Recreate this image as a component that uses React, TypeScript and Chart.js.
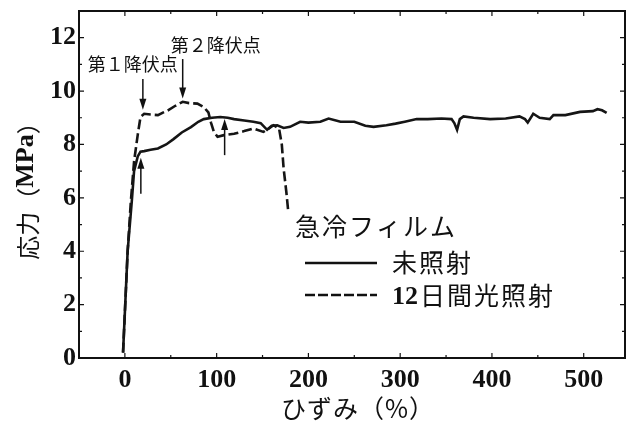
import React, { useEffect, useRef } from "react";
import { Chart, registerables } from "chart.js";

Chart.register(...registerables);

// 未照射 (solid)
const unexposedStrain = [-2, 3, 7.6, 10, 14, 17, 21, 28, 36, 45, 53, 62, 72, 80, 86, 95, 104, 112, 119, 130, 140, 148, 155, 160, 166, 173, 180, 191, 200, 213, 222, 235, 250, 262, 271, 285, 295, 305, 318, 330, 345, 356, 359, 362, 365, 369, 380, 398, 415, 430, 436, 439, 445, 452, 463, 467, 480, 496, 510, 515, 520, 525];
const unexposedStress = [0.2, 4.0, 5.9, 7.0, 7.55, 7.73, 7.75, 7.8, 7.85, 8.0, 8.2, 8.45, 8.65, 8.85, 8.95, 9.0, 9.03, 9.0, 8.95, 8.9, 8.85, 8.8, 8.55, 8.7, 8.72, 8.62, 8.66, 8.85, 8.82, 8.85, 8.97, 8.85, 8.85, 8.7, 8.66, 8.72, 8.78, 8.85, 8.95, 8.95, 8.97, 8.95, 8.8, 8.55, 8.95, 9.05, 9.0, 8.95, 8.97, 9.05, 8.95, 8.82, 9.15, 9.0, 8.95, 9.1, 9.1, 9.22, 9.25, 9.32, 9.28, 9.18];

// 12日間光照射 (dashed)
const exposedStrain = [-2, 3, 6.5, 10, 14, 17, 21, 28, 36, 42, 47, 55, 63, 70, 79, 86, 91, 94, 97, 101, 108, 119, 130, 140, 151, 157, 162, 168, 171, 173, 176, 178];
const exposedStress = [0.2, 4.0, 5.87, 7.36, 8.36, 9.03, 9.15, 9.12, 9.1, 9.2, 9.28, 9.45, 9.6, 9.55, 9.53, 9.4, 9.2, 8.8, 8.47, 8.29, 8.35, 8.4, 8.5, 8.6, 8.47, 8.6, 8.72, 8.6, 8.0, 7.1, 6.2, 5.5];

const xTickValues = [0, 100, 200, 300, 400, 500];
const yTickValues = [0, 2, 4, 6, 8, 10, 12];

const legendTitle = "急冷フィルム";
const seriesNames = ["未照射", "12日間光照射"];
const xTitle = "ひずみ（%）";
const yTitleJa = "応力";

// annotation arrows: [strain, fromStress, toStress]
const downArrows = [[19.6, 10.45, 9.3], [63, 11.2, 9.72]];
const upArrows = [[17.4, 6.15, 7.5], [108.7, 7.6, 8.95]];
const arrowLabels = ["第１降伏点", "第２降伏点"];

const CJK = '"Noto Sans CJK JP", sans-serif';
const SERIF = '"Liberation Serif", "DejaVu Serif", serif';

function toPoints(xs: number[], ys: number[]) {
  return xs.map((x, i) => ({ x, y: ys[i] }));
}

const framePlugin = {
  id: "frame",
  afterDraw(chart: any) {
    const { ctx, chartArea: a, scales } = chart;
    const xs = scales.x, ys = scales.y;
    ctx.save();
    ctx.strokeStyle = "#111";
    ctx.fillStyle = "#111";
    // frame
    ctx.lineWidth = 2;
    ctx.strokeRect(a.left, a.top, a.right - a.left, a.bottom - a.top);
    // ticks
    ctx.lineWidth = 1.2;
    for (let v = -50; v <= 545; v += 50) {
      const px = xs.getPixelForValue(v);
      if (px < a.left + 1 || px > a.right - 1) continue;
      const len = v % 100 === 0 ? 5 : 3;
      ctx.beginPath();
      ctx.moveTo(px, a.bottom); ctx.lineTo(px, a.bottom - len);
      ctx.moveTo(px, a.top); ctx.lineTo(px, a.top + len);
      ctx.stroke();
    }
    for (let v = 0; v <= 13; v += 1) {
      const py = ys.getPixelForValue(v);
      if (py < a.top + 1 || py > a.bottom - 1) continue;
      const len = v % 2 === 0 ? 5 : 3;
      ctx.beginPath();
      ctx.moveTo(a.left, py); ctx.lineTo(a.left + len, py);
      ctx.moveTo(a.right, py); ctx.lineTo(a.right - len, py);
      ctx.stroke();
    }

    // arrows
    const arrow = (x: number, y0: number, y1: number) => {
      const px = xs.getPixelForValue(x);
      const p0 = ys.getPixelForValue(y0);
      const p1 = ys.getPixelForValue(y1);
      const dir = p1 > p0 ? 1 : -1;
      ctx.lineWidth = 1.5;
      ctx.beginPath();
      ctx.moveTo(px, p0);
      ctx.lineTo(px, p1 - dir * 8);
      ctx.stroke();
      ctx.beginPath();
      ctx.moveTo(px, p1);
      ctx.lineTo(px - 3.5, p1 - dir * 11);
      ctx.lineTo(px + 3.5, p1 - dir * 11);
      ctx.closePath();
      ctx.fill();
    };
    downArrows.forEach((d) => arrow(d[0], d[1], d[2]));
    upArrows.forEach((d) => arrow(d[0], d[1], d[2]));

    // arrow labels
    ctx.font = `18px ${CJK}`;
    ctx.textBaseline = "middle";
    ctx.textAlign = "center";
    ctx.fillText(arrowLabels[0], xs.getPixelForValue(19.6) - 10, ys.getPixelForValue(11.0));
    ctx.fillText(arrowLabels[1], xs.getPixelForValue(63) + 33, ys.getPixelForValue(11.72));

    // legend
    const lx0 = a.left + 226, lx1 = a.left + 298;
    ctx.textAlign = "left";
    ctx.font = `25px ${CJK}`;
    ctx.letterSpacing = "2px";
    ctx.fillText(legendTitle, a.left + 216, a.top + 215);
    ctx.lineWidth = 2.5;
    ctx.beginPath();
    ctx.moveTo(lx0, a.top + 252); ctx.lineTo(lx1, a.top + 252);
    ctx.stroke();
    ctx.setLineDash([10, 3]);
    ctx.beginPath();
    ctx.moveTo(lx0, a.top + 284); ctx.lineTo(lx1, a.top + 284);
    ctx.stroke();
    ctx.setLineDash([]);
    ctx.fillText(seriesNames[0], a.left + 313, a.top + 251);
    const m = seriesNames[1].match(/^(\d+)(.*)$/);
    const num = m ? m[1] : "";
    const rest = m ? m[2] : seriesNames[1];
    ctx.letterSpacing = "0px";
    ctx.font = `bold 26px ${SERIF}`;
    ctx.fillText(num, a.left + 313, a.top + 286);
    const nw = ctx.measureText(num).width;
    ctx.font = `25px ${CJK}`;
    ctx.letterSpacing = "2px";
    ctx.fillText(rest, a.left + 313 + nw + 2, a.top + 284);

    // x title
    ctx.textAlign = "left";
    ctx.font = `25px ${CJK}`;
    ctx.letterSpacing = "1px";
    const tw = ctx.measureText(xTitle).width;
    ctx.fillText(xTitle, 358 - tw / 2, 408);
    ctx.letterSpacing = "0px";

    // y title (rotated, mixed fonts)
    ctx.translate(28, 185);
    ctx.rotate(-Math.PI / 2);
    const parts = [
      { t: yTitleJa, f: `24px ${CJK}` },
      { t: "（", f: `24px ${CJK}` },
      { t: "MPa", f: `bold 26px ${SERIF}` },
      { t: "）", f: `24px ${CJK}` },
    ];
    let total = 0;
    parts.forEach((p) => { ctx.font = p.f; total += ctx.measureText(p.t).width; });
    let cx = -total / 2;
    ctx.textAlign = "left";
    parts.forEach((p) => {
      ctx.font = p.f;
      ctx.fillText(p.t, cx, p.t === "MPa" ? -2 : 0);
      cx += ctx.measureText(p.t).width;
    });
    ctx.restore();
  },
};

export default function App() {
  const ref = useRef<HTMLCanvasElement | null>(null);
  useEffect(() => {
    document.body.style.margin = "0";
    const canvas = ref.current;
    if (!canvas) return;
    const chart = new Chart(canvas, {
      type: "scatter",
      data: {
        datasets: [
          {
            label: seriesNames[0],
            data: toPoints(unexposedStrain, unexposedStress),
            showLine: true,
            borderColor: "#151515",
            borderWidth: 2.6,
            pointRadius: 0,
            tension: 0,
          },
          {
            label: seriesNames[1],
            data: toPoints(exposedStrain, exposedStress),
            showLine: true,
            borderColor: "#151515",
            borderWidth: 2.6,
            borderDash: [10, 4],
            pointRadius: 0,
            tension: 0,
          },
        ],
      },
      options: {
        responsive: false,
        maintainAspectRatio: false,
        animation: false,
        layout: { padding: { top: 11, right: 2, left: 0, bottom: 0 } },
        plugins: { legend: { display: false }, tooltip: { enabled: false } },
        scales: {
          x: {
            type: "linear",
            min: -50,
            max: 545,
            grid: { display: false, drawTicks: false },
            border: { display: false },
            afterBuildTicks: (s: any) => {
              s.ticks = xTickValues.map((v) => ({ value: v }));
            },
            afterFit: (s: any) => {
              s.height = 67;
              s.paddingLeft = 0;
              s.paddingRight = 0;
            },
            ticks: {
              color: "#111",
              padding: 7,
              maxRotation: 0,
              autoSkip: false,
              font: { family: SERIF, size: 26, weight: "bold" },
            },
          },
          y: {
            type: "linear",
            min: 0,
            max: 13,
            grid: { display: false, drawTicks: false },
            border: { display: false },
            afterBuildTicks: (s: any) => {
              s.ticks = yTickValues.map((v) => ({ value: v }));
            },
            afterFit: (s: any) => {
              s.width = 79;
              s.paddingTop = 0;
              s.paddingBottom = 0;
            },
            ticks: {
              color: "#111",
              padding: 3,
              autoSkip: false,
              font: { family: SERIF, size: 26, weight: "bold" },
            },
          },
        },
      },
      plugins: [framePlugin],
    } as any);
    return () => chart.destroy();
  }, []);
  return (
    <div style={{ width: 627, height: 425, background: "#fff" }}>
      <canvas ref={ref} width={627} height={425} style={{ display: "block" }} />
    </div>
  );
}
